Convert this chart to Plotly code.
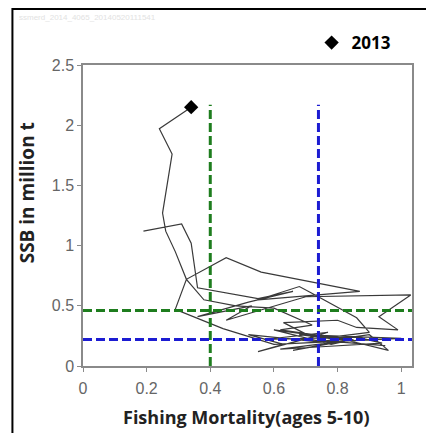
import plotly.graph_objects as go

# Northeast Arctic cod style trajectory: fishing mortality (ages 5-10) vs SSB (million t)
fishing_mortality = [
    0.19, 0.31, 0.34, 0.36, 0.55, 0.66, 0.52, 0.36, 0.53, 0.45,
    0.70, 1.03, 0.93, 0.99, 0.86, 0.80, 0.63, 0.72, 0.55, 0.63,
    0.52, 0.74, 0.90, 0.96, 0.82, 0.60, 0.78, 0.85, 0.66, 0.80,
    0.95, 0.70, 0.77, 0.57, 0.86, 0.94, 0.75, 0.62, 0.83, 0.68,
    1.00, 0.60, 0.44, 0.29, 0.325, 0.45, 0.56, 0.87, 0.55, 0.68,
    0.715, 0.86, 0.90, 0.78, 0.62, 0.72, 0.60, 0.48, 0.38, 0.325,
    0.29, 0.26, 0.25, 0.28, 0.24, 0.34,
]
ssb_million_t = [
    1.12, 1.18, 1.02, 0.65, 0.56, 0.62, 0.53, 0.41, 0.50, 0.38,
    0.575, 0.59, 0.41, 0.30, 0.32, 0.38, 0.36, 0.24, 0.12, 0.18,
    0.26, 0.20, 0.26, 0.13, 0.22, 0.30, 0.18, 0.22, 0.13, 0.20,
    0.17, 0.22, 0.28, 0.22, 0.24, 0.19, 0.16, 0.14, 0.21, 0.26,
    0.23, 0.18, 0.31, 0.47, 0.72, 0.90, 0.78, 0.62, 0.55, 0.66,
    0.61, 0.40, 0.28, 0.24, 0.30, 0.34, 0.48, 0.50, 0.55, 0.72,
    0.95, 1.12, 1.27, 1.76, 1.97, 2.15,
]
years = list(range(2013 - len(fishing_mortality) + 1, 2014))
last_year_label = "2013"

# Reference points
f_pa, f_lim = 0.40, 0.74
b_pa, b_lim = 0.46, 0.22
ref_top = 2.17
x_max = 1.034

x_ticks = [0, 0.2, 0.4, 0.6, 0.8, 1]
x_tick_labels = ["0", "0.2", "0.4", "0.6", "0.8", "1"]
y_ticks = [0, 0.5, 1, 1.5, 2, 2.5]
y_tick_labels = ["0", "0.5", "1", "1.5", "2", "2.5"]

green = "#1e7d1e"
blue = "#1c1cd2"
dash = "9px,4px"

fig = go.Figure()
fig.add_trace(go.Scatter(
    x=fishing_mortality, y=ssb_million_t, mode="lines",
    line=dict(color="#3a3a3a", width=1.2), showlegend=False, hoverinfo="skip"))

fig.add_trace(go.Scatter(x=[f_pa, f_pa], y=[0, ref_top], mode="lines",
                         line=dict(color=green, width=3, dash=dash), showlegend=False))
fig.add_trace(go.Scatter(x=[f_lim, f_lim], y=[0, ref_top], mode="lines",
                         line=dict(color=blue, width=3, dash=dash), showlegend=False))
fig.add_trace(go.Scatter(x=[0, x_max], y=[b_pa, b_pa], mode="lines",
                         line=dict(color=green, width=3, dash=dash), showlegend=False))
fig.add_trace(go.Scatter(x=[0, x_max], y=[b_lim, b_lim], mode="lines",
                         line=dict(color=blue, width=3, dash=dash), showlegend=False))

fig.add_trace(go.Scatter(
    x=[fishing_mortality[-1]], y=[ssb_million_t[-1]], mode="markers",
    marker=dict(symbol="diamond", size=11, color="black"),
    name="<b>" + last_year_label + "</b>", showlegend=True))

axis_common = dict(
    showgrid=False, zeroline=False, showline=True, linecolor="#8a8a8a", linewidth=1.5,
    mirror=True, ticks="outside", ticklen=4, tickcolor="#8a8a8a", tickwidth=1,
    tickfont=dict(family="Liberation Sans, Arial", size=16, color="#666666"),
)

fig.update_layout(
    width=426, height=433,
    margin=dict(l=83, r=12, t=65, b=67),
    paper_bgcolor="white", plot_bgcolor="white",
    xaxis=dict(range=[0, x_max], tickvals=x_ticks, ticktext=x_tick_labels,
               ticklabelstandoff=3, **axis_common),
    yaxis=dict(range=[0, 2.5], tickvals=y_ticks, ticktext=y_tick_labels, **axis_common),
    legend=dict(x=(313 - 83) / 331, y=(366 - 43) / 301, xanchor="left", yanchor="middle",
                font=dict(family="Open Sans, Arial", size=17, color="black"),
                bgcolor="rgba(0,0,0,0)", itemwidth=30),
    annotations=[
        dict(text="<b>Fishing Mortality(ages 5-10)</b>", xref="paper", yref="paper",
             x=(247 - 83) / 331, y=(366 - 417) / 301, xanchor="center", yanchor="middle",
             showarrow=False,
             font=dict(family="Open Sans, Arial", size=18, color="#222222")),
        dict(text="<b>SSB in million t</b>", xref="paper", yref="paper",
             x=(27 - 83) / 331, y=(366 - 193) / 301, xanchor="center", yanchor="middle",
             textangle=-90, showarrow=False,
             font=dict(family="Open Sans, Arial", size=19, color="#222222")),
        dict(text="ssmerd_2014_4065_20140520111541", xref="paper", yref="paper",
             x=(17 - 83) / 331, y=(366 - 18) / 301, xanchor="left", yanchor="middle",
             showarrow=False, font=dict(family="Liberation Sans, Arial", size=8, color="#e2e2e2")),
    ],
    shapes=[
        dict(type="rect", xref="paper", yref="paper",
             x0=(12 - 83) / 331, y0=(366 - 440) / 301, x1=(440 - 83) / 331, y1=(366 - 9) / 301,
             line=dict(color="black", width=2), fillcolor="rgba(0,0,0,0)", layer="below"),
    ],
)

fig.write_html("out.html", config={"displayModeBar": False},
               post_script="document.body.style.margin='0';document.body.style.overflow='hidden';")
